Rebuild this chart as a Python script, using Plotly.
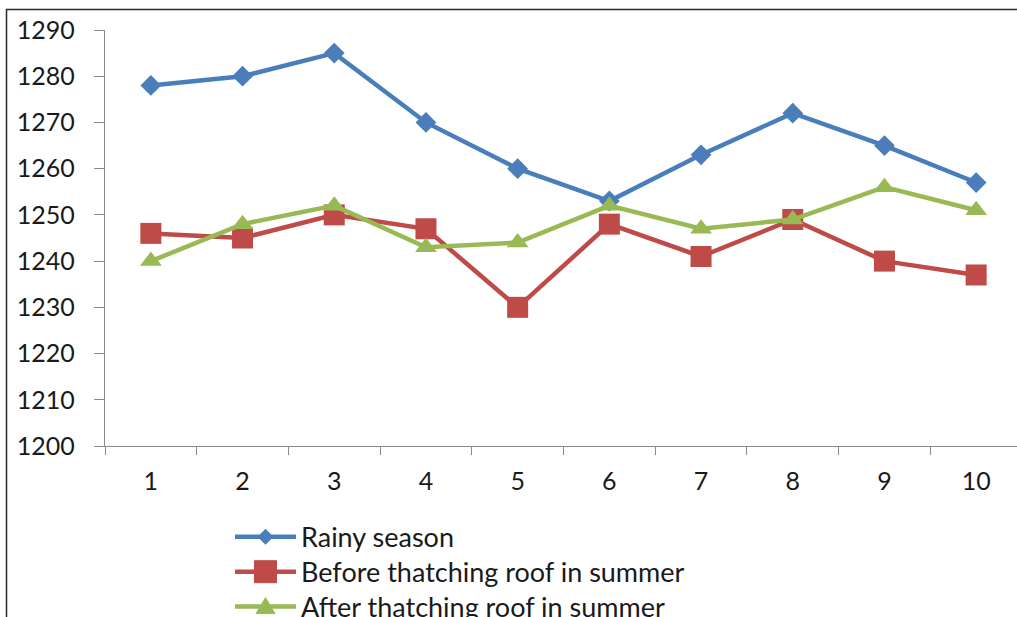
import plotly.graph_objects as go

# Sample points along the horizontal axis
points = [1, 2, 3, 4, 5, 6, 7, 8, 9, 10]

# Measured values for each condition
rainy_season = [1278, 1280, 1285, 1270, 1260, 1253, 1263, 1272, 1265, 1257]
before_thatching = [1246, 1245, 1250, 1247, 1230, 1248, 1241, 1249, 1240, 1237]
after_thatching = [1240, 1248, 1252, 1243, 1244, 1252, 1247, 1249, 1256, 1251]

series_names = [
    "Rainy season",
    "Before thatching roof in summer",
    "After thatching roof in summer",
]

y_ticks = [1200, 1210, 1220, 1230, 1240, 1250, 1260, 1270, 1280, 1290]

BLUE, RED, GREEN = "#4A7EBB", "#BE4B48", "#98B954"
FONT = "Lato, Open Sans, sans-serif"
W, H = 1017, 617
L, T, B = 105, 29.5, 170.5

fig = go.Figure()
fig.add_trace(go.Scatter(
    x=points, y=rainy_season, name=series_names[0], mode="lines+markers",
    line=dict(color=BLUE, width=4.5),
    marker=dict(symbol="diamond", size=16, color=BLUE),
))
fig.add_trace(go.Scatter(
    x=points, y=before_thatching, name=series_names[1], mode="lines+markers",
    line=dict(color=RED, width=4.5),
    marker=dict(symbol="square", size=21, color=RED),
))
fig.add_trace(go.Scatter(
    x=points, y=after_thatching, name=series_names[2], mode="lines+markers",
    line=dict(color=GREEN, width=4.5),
    marker=dict(symbol="triangle-up", size=19, color=GREEN),
))

plot_w = W - L
plot_h = H - T - B

def px_x(px):
    return (px - L) / plot_w

def px_y(py):
    return (H - B - py) / plot_h

def path(points_px):
    return "M " + " L ".join(f"{px_x(a):.5f},{px_y(b):.5f}" for a, b in points_px) + " Z"

# Outer frame of the chart area (top and left edges visible)
fig.add_shape(
    type="rect", xref="paper", yref="paper",
    x0=px_x(6.5), x1=px_x(W + 20), y0=px_y(H + 20), y1=px_y(9),
    line=dict(color="#2a2a2a", width=1.5), fillcolor="rgba(0,0,0,0)",
    layer="below",
)

# Legend below the plot: long line sample, centred marker, label
leg_x0, leg_x1, leg_mx, leg_tx = 235, 296, 265.5, 299
leg_rows = [537.5, 572.5, 607.5]
leg_colors = [BLUE, RED, GREEN]
for i, (name, color, yc) in enumerate(zip(series_names, leg_colors, leg_rows)):
    fig.add_shape(
        type="line", xref="paper", yref="paper",
        x0=px_x(leg_x0), x1=px_x(leg_x1), y0=px_y(yc), y1=px_y(yc),
        line=dict(color=color, width=4.5),
    )
    if i == 0:
        r = 7.5
        glyph = [(leg_mx - r, yc), (leg_mx, yc - r), (leg_mx + r, yc), (leg_mx, yc + r)]
    elif i == 1:
        r = 11
        glyph = [(leg_mx - r, yc - r), (leg_mx + r, yc - r), (leg_mx + r, yc + r), (leg_mx - r, yc + r)]
    else:
        r = 9.5
        glyph = [(leg_mx - r, yc + 7), (leg_mx, yc - 9), (leg_mx + r, yc + 7)]
    fig.add_shape(
        type="path", xref="paper", yref="paper", path=path(glyph),
        fillcolor=color, line=dict(color=color, width=1),
    )
    fig.add_annotation(
        xref="paper", yref="paper", x=px_x(leg_tx), y=px_y(yc),
        xanchor="left", yanchor="middle", showarrow=False,
        text=name, font=dict(family=FONT, size=27, color="#1a1a1a"),
    )

axis_color = "#8a8a8a"
fig.update_xaxes(
    range=[0.5, 0.5 + (W - L) / 91.7],
    tickvals=points,
    ticktext=[str(p) for p in points],
    ticks="",
    showline=True, linecolor=axis_color, linewidth=1.3,
    showgrid=False, zeroline=False,
    tickfont=dict(family=FONT, size=25, color="#1a1a1a"),
    ticklabelstandoff=13,
    minor=dict(tick0=0.5, dtick=1, ticks="outside", ticklen=8,
               tickcolor=axis_color, tickwidth=1.3, showgrid=False),
)
fig.update_yaxes(
    range=[1200, 1290],
    tickvals=y_ticks,
    ticks="outside", ticklen=10, tickcolor=axis_color, tickwidth=1.3,
    showline=True, linecolor=axis_color, linewidth=1.3,
    showgrid=False, zeroline=False,
    tickfont=dict(family=FONT, size=25, color="#1a1a1a"),
    ticklabelstandoff=14,
)

fig.update_layout(
    width=W, height=H,
    margin=dict(l=L, r=0, t=T, b=B, autoexpand=False),
    paper_bgcolor="white", plot_bgcolor="white",
    showlegend=False,
)

fig.write_html("out.html")
